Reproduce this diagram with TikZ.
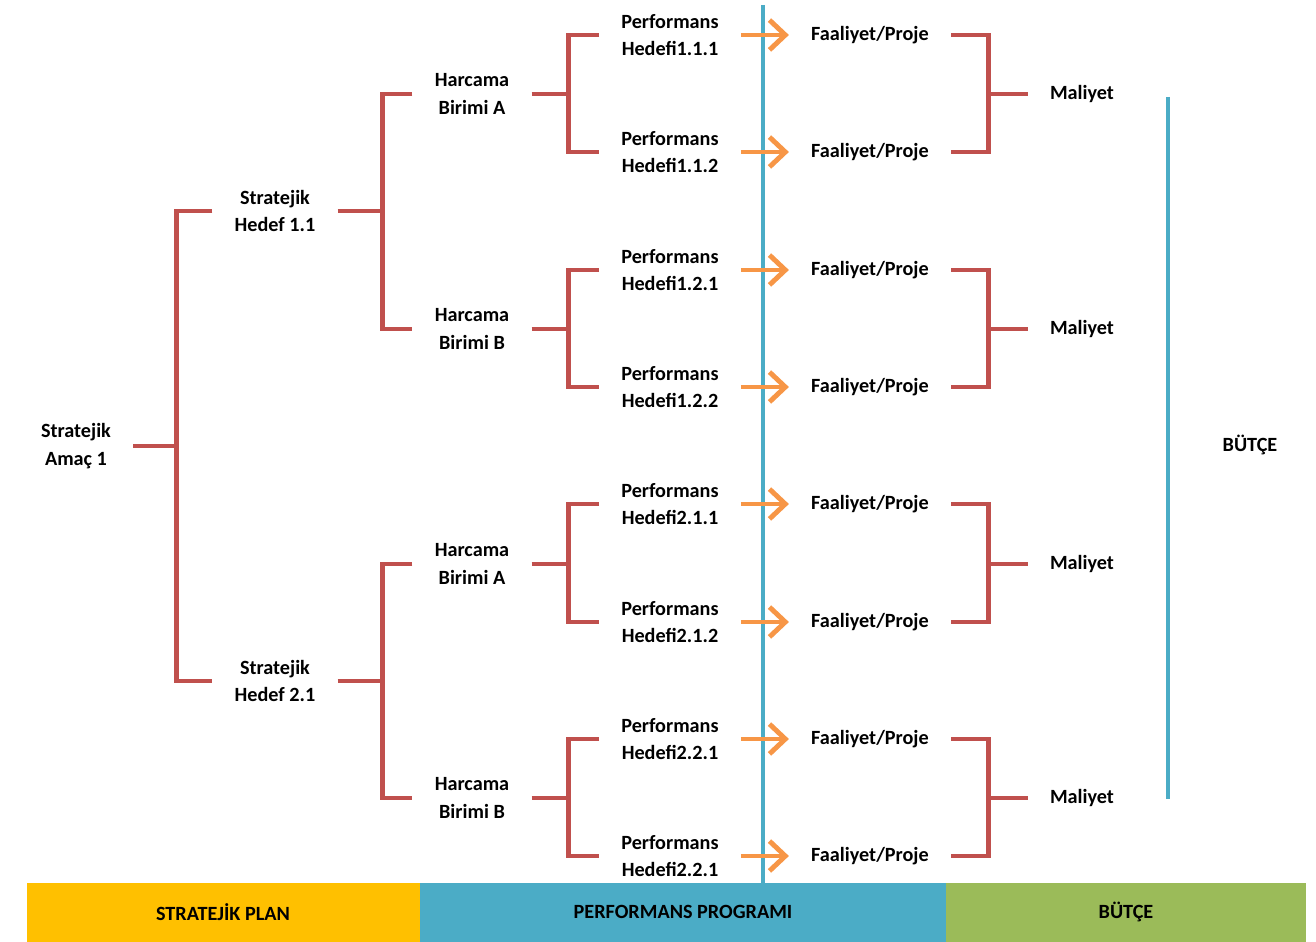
\documentclass[tikz,border=0pt]{standalone}
\usepackage{fontspec}
\setmainfont{Carlito}
\usetikzlibrary{arrows.meta}

\definecolor{brkred}{RGB}{192,80,77}
\definecolor{arrorange}{RGB}{247,150,70}
\definecolor{progblue}{RGB}{75,172,198}
\definecolor{planyellow}{RGB}{255,192,0}
\definecolor{budgetgreen}{RGB}{155,187,89}

\tikzset{
    lbl/.style={font=\bfseries\fontsize{11.5}{15.5}\selectfont, align=center, inner ysep=0pt, inner xsep=0.44cm, text=black},
    brk/.style={draw=brkred, line width=2.8pt},
    arr/.style={draw=arrorange, line width=2.8pt, -{Straight Barb[length=9pt,width=17pt]}},
    prog/.style={draw=progblue, line width=2.8pt},
    barlbl/.style={font=\bfseries\fontsize{11.5}{13}\selectfont, text=black}
}

\begin{document}
\begin{tikzpicture}[x=0.02cm, y=-0.02cm]
        \useasboundingbox (0,0) rectangle (1316,942);
        % strategic plan
        \node[lbl] (amac) at (76,446) {Stratejik\\Amaç 1};
        \node[lbl] (hedef11) at (275,211) {Stratejik\\Hedef 1.1};
        \node[lbl] (hedef21) at (275,681) {Stratejik\\Hedef 2.1};
        \node[lbl] (harc1a) at (472,94) {Harcama\\Birimi A};
        \node[lbl] (harc1b) at (472,329) {Harcama\\Birimi B};
        \node[lbl] (harc2a) at (472,564) {Harcama\\Birimi A};
        \node[lbl] (harc2b) at (472,798) {Harcama\\Birimi B};
        % performance targets
        \node[lbl] (perf111) at (670,35) {Performans\\Hedefi1.1.1};
        \node[lbl] (perf112) at (670,152) {Performans\\Hedefi1.1.2};
        \node[lbl] (perf121) at (670,270) {Performans\\Hedefi1.2.1};
        \node[lbl] (perf122) at (670,387) {Performans\\Hedefi1.2.2};
        \node[lbl] (perf211) at (670,504) {Performans\\Hedefi2.1.1};
        \node[lbl] (perf212) at (670,622) {Performans\\Hedefi2.1.2};
        \node[lbl] (perf221) at (670,739) {Performans\\Hedefi2.2.1};
        \node[lbl] (perf222) at (670,856) {Performans\\Hedefi2.2.1};
        % activities
        \node[lbl] (faal1) at (870,35) {Faaliyet/Proje};
        \node[lbl] (faal2) at (870,152) {Faaliyet/Proje};
        \node[lbl] (faal3) at (870,270) {Faaliyet/Proje};
        \node[lbl] (faal4) at (870,387) {Faaliyet/Proje};
        \node[lbl] (faal5) at (870,504) {Faaliyet/Proje};
        \node[lbl] (faal6) at (870,622) {Faaliyet/Proje};
        \node[lbl] (faal7) at (870,739) {Faaliyet/Proje};
        \node[lbl] (faal8) at (870,856) {Faaliyet/Proje};
        \node[lbl] (mal1) at (1082,94) {Maliyet};
        \node[lbl] (mal2) at (1082,329) {Maliyet};
        \node[lbl] (mal3) at (1082,564) {Maliyet};
        \node[lbl] (mal4) at (1082,798) {Maliyet};
        \node[lbl] (butce) at (1250,445) {BÜTÇE};
        % brackets
        \draw[brk] (amac.east) -- ++(43,0) coordinate (amacm);
        \draw[brk] (hedef11.west) -| (amacm) |- (hedef21.west);
        \draw[brk] (hedef11.east) -- ++(45,0) coordinate (hedef11m);
        \draw[brk] (harc1a.west) -| (hedef11m) |- (harc1b.west);
        \draw[brk] (hedef21.east) -- ++(45,0) coordinate (hedef21m);
        \draw[brk] (harc2a.west) -| (hedef21m) |- (harc2b.west);
        \draw[brk] (harc1a.east) -- ++(37,0) coordinate (harc1am);
        \draw[brk] (perf111.west) -| (harc1am) |- (perf112.west);
        \draw[brk] (harc1b.east) -- ++(37,0) coordinate (harc1bm);
        \draw[brk] (perf121.west) -| (harc1bm) |- (perf122.west);
        \draw[brk] (harc2a.east) -- ++(37,0) coordinate (harc2am);
        \draw[brk] (perf211.west) -| (harc2am) |- (perf212.west);
        \draw[brk] (harc2b.east) -- ++(37,0) coordinate (harc2bm);
        \draw[brk] (perf221.west) -| (harc2bm) |- (perf222.west);
        \draw[brk] (mal1.west) -- ++(-39,0) coordinate (mal1m);
        \draw[brk] (faal1.east) -| (mal1m) |- (faal2.east);
        \draw[brk] (mal2.west) -- ++(-39,0) coordinate (mal2m);
        \draw[brk] (faal3.east) -| (mal2m) |- (faal4.east);
        \draw[brk] (mal3.west) -- ++(-39,0) coordinate (mal3m);
        \draw[brk] (faal5.east) -| (mal3m) |- (faal6.east);
        \draw[brk] (mal4.west) -- ++(-39,0) coordinate (mal4m);
        \draw[brk] (faal7.east) -| (mal4m) |- (faal8.east);
        % program and budget lines
        \draw[prog] (763,5) -- (763,884);
        \draw[prog] (1168,97) -- (1168,799);
        \draw[arr] (perf111.east) -- (faal1.west);
        \draw[arr] (perf112.east) -- (faal2.west);
        \draw[arr] (perf121.east) -- (faal3.west);
        \draw[arr] (perf122.east) -- (faal4.west);
        \draw[arr] (perf211.east) -- (faal5.west);
        \draw[arr] (perf212.east) -- (faal6.west);
        \draw[arr] (perf221.east) -- (faal7.west);
        \draw[arr] (perf222.east) -- (faal8.west);
        % bottom bar
        \fill[planyellow] (27,883) rectangle (420,942);
        \fill[progblue] (420,883) rectangle (946,942);
        \fill[budgetgreen] (946,883) rectangle (1306,942);
        \node[barlbl] (planlbl) at (223,912) {STRATEJİK PLAN};
        \node[barlbl] (proglbl) at (683,912) {PERFORMANS PROGRAMI};
        \node[barlbl] (butcelbl) at (1126,912) {BÜTÇE};
    \end{tikzpicture}
\end{document}
